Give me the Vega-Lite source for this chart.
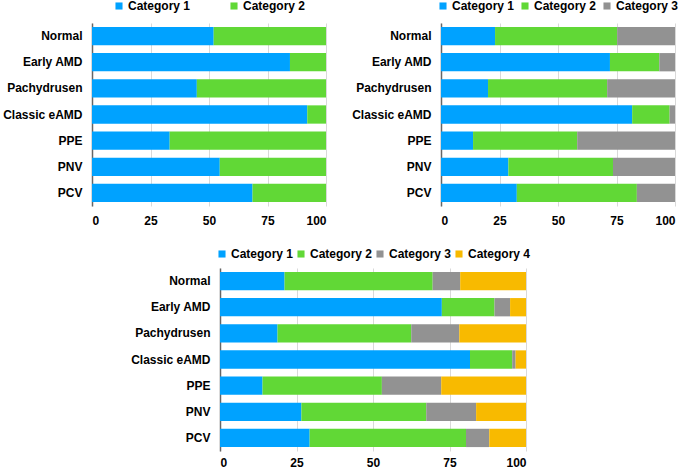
{
  "$schema": "https://vega.github.io/schema/vega-lite/v6.json",
  "padding": {"left": 2, "top": 0, "right": 0, "bottom": 0},
  "datasets": {
    "d2": [
      {"g": "Normal", "c": "Category 1", "v": 52.0}, {"g": "Normal", "c": "Category 2", "v": 48.0},
      {"g": "Early AMD", "c": "Category 1", "v": 84.6}, {"g": "Early AMD", "c": "Category 2", "v": 15.4},
      {"g": "Pachydrusen", "c": "Category 1", "v": 44.8}, {"g": "Pachydrusen", "c": "Category 2", "v": 55.2},
      {"g": "Classic eAMD", "c": "Category 1", "v": 92.0}, {"g": "Classic eAMD", "c": "Category 2", "v": 8.0},
      {"g": "PPE", "c": "Category 1", "v": 33.2}, {"g": "PPE", "c": "Category 2", "v": 66.8},
      {"g": "PNV", "c": "Category 1", "v": 54.6}, {"g": "PNV", "c": "Category 2", "v": 45.4},
      {"g": "PCV", "c": "Category 1", "v": 68.6}, {"g": "PCV", "c": "Category 2", "v": 31.4}
    ],
    "d3": [
      {"g": "Normal", "c": "Category 1", "v": 23.1}, {"g": "Normal", "c": "Category 2", "v": 52.2}, {"g": "Normal", "c": "Category 3", "v": 24.7},
      {"g": "Early AMD", "c": "Category 1", "v": 72.2}, {"g": "Early AMD", "c": "Category 2", "v": 21.1}, {"g": "Early AMD", "c": "Category 3", "v": 6.7},
      {"g": "Pachydrusen", "c": "Category 1", "v": 20.1}, {"g": "Pachydrusen", "c": "Category 2", "v": 50.9}, {"g": "Pachydrusen", "c": "Category 3", "v": 29.0},
      {"g": "Classic eAMD", "c": "Category 1", "v": 81.7}, {"g": "Classic eAMD", "c": "Category 2", "v": 16.0}, {"g": "Classic eAMD", "c": "Category 3", "v": 2.3},
      {"g": "PPE", "c": "Category 1", "v": 13.7}, {"g": "PPE", "c": "Category 2", "v": 44.5}, {"g": "PPE", "c": "Category 3", "v": 41.8},
      {"g": "PNV", "c": "Category 1", "v": 28.8}, {"g": "PNV", "c": "Category 2", "v": 44.7}, {"g": "PNV", "c": "Category 3", "v": 26.5},
      {"g": "PCV", "c": "Category 1", "v": 32.4}, {"g": "PCV", "c": "Category 2", "v": 51.3}, {"g": "PCV", "c": "Category 3", "v": 16.3}
    ],
    "d4": [
      {"g": "Normal", "c": "Category 1", "v": 21.1}, {"g": "Normal", "c": "Category 2", "v": 48.4}, {"g": "Normal", "c": "Category 3", "v": 9.0}, {"g": "Normal", "c": "Category 4", "v": 21.5},
      {"g": "Early AMD", "c": "Category 1", "v": 72.5}, {"g": "Early AMD", "c": "Category 2", "v": 17.2}, {"g": "Early AMD", "c": "Category 3", "v": 5.1}, {"g": "Early AMD", "c": "Category 4", "v": 5.2},
      {"g": "Pachydrusen", "c": "Category 1", "v": 18.8}, {"g": "Pachydrusen", "c": "Category 2", "v": 43.7}, {"g": "Pachydrusen", "c": "Category 3", "v": 15.7}, {"g": "Pachydrusen", "c": "Category 4", "v": 21.8},
      {"g": "Classic eAMD", "c": "Category 1", "v": 81.7}, {"g": "Classic eAMD", "c": "Category 2", "v": 13.8}, {"g": "Classic eAMD", "c": "Category 3", "v": 1.1}, {"g": "Classic eAMD", "c": "Category 4", "v": 3.4},
      {"g": "PPE", "c": "Category 1", "v": 13.9}, {"g": "PPE", "c": "Category 2", "v": 39.0}, {"g": "PPE", "c": "Category 3", "v": 19.4}, {"g": "PPE", "c": "Category 4", "v": 27.7},
      {"g": "PNV", "c": "Category 1", "v": 26.6}, {"g": "PNV", "c": "Category 2", "v": 40.8}, {"g": "PNV", "c": "Category 3", "v": 16.3}, {"g": "PNV", "c": "Category 4", "v": 16.3},
      {"g": "PCV", "c": "Category 1", "v": 29.3}, {"g": "PCV", "c": "Category 2", "v": 51.1}, {"g": "PCV", "c": "Category 3", "v": 7.6}, {"g": "PCV", "c": "Category 4", "v": 12.0}
    ]
  },
  "vconcat": [
    {
      "hconcat": [
        {
          "data": {"name": "d2"},
          "width": 234, "height": 183,
          "mark": {"type": "bar"},
          "encoding": {
            "y": {"field": "g", "type": "nominal", "sort": ["Normal", "Early AMD", "Pachydrusen", "Classic eAMD", "PPE", "PNV", "PCV"], "title": null, "scale": {"paddingInner": 0.3, "paddingOuter": 0.15}},
            "x": {"field": "v", "type": "quantitative", "stack": "zero", "title": null, "scale": {"domain": [0, 100], "nice": false}, "axis": {"values": [0, 25, 50, 75, 100]}},
            "color": {"field": "c", "type": "nominal", "scale": {"domain": ["Category 1", "Category 2"], "range": ["#00A2FF", "#61D836"]}, "legend": {"orient": "top", "title": null, "columnPadding": 37, "offset": 11}},
            "order": {"field": "c"}
          }
        },
        {
          "data": {"name": "d3"},
          "width": 234, "height": 183,
          "mark": {"type": "bar"},
          "encoding": {
            "y": {"field": "g", "type": "nominal", "sort": ["Normal", "Early AMD", "Pachydrusen", "Classic eAMD", "PPE", "PNV", "PCV"], "title": null, "scale": {"paddingInner": 0.3, "paddingOuter": 0.15}},
            "x": {"field": "v", "type": "quantitative", "stack": "zero", "title": null, "scale": {"domain": [0, 100], "nice": false}, "axis": {"values": [0, 25, 50, 75, 100]}},
            "color": {"field": "c", "type": "nominal", "scale": {"domain": ["Category 1", "Category 2", "Category 3"], "range": ["#00A2FF", "#61D836", "#929292"]}, "legend": {"orient": "top", "title": null, "columnPadding": 4, "offset": 11}},
            "order": {"field": "c"}
          }
        }
      ],
      "spacing": 25,
      "resolve": {"scale": {"color": "independent"}, "legend": {"color": "independent"}}
    },
    {
      "hconcat": [
        {
          "data": {"values": []},
          "width": 38, "height": 10,
          "mark": {"type": "point"}
        },
        {
          "data": {"name": "d4"},
          "width": 306, "height": 183,
          "mark": {"type": "bar"},
          "encoding": {
            "y": {"field": "g", "type": "nominal", "sort": ["Normal", "Early AMD", "Pachydrusen", "Classic eAMD", "PPE", "PNV", "PCV"], "title": null, "scale": {"paddingInner": 0.3, "paddingOuter": 0.15}},
            "x": {"field": "v", "type": "quantitative", "stack": "zero", "title": null, "scale": {"domain": [0, 100], "nice": false}, "axis": {"values": [0, 25, 50, 75, 100], "labelPadding": 6}},
            "color": {"field": "c", "type": "nominal", "scale": {"domain": ["Category 1", "Category 2", "Category 3", "Category 4"], "range": ["#00A2FF", "#61D836", "#929292", "#F8BA00"]}, "legend": {"orient": "top", "title": null, "columnPadding": 1, "offset": 8}},
            "order": {"field": "c"}
          }
        }
      ],
      "spacing": 0,
      "resolve": {"scale": {"color": "independent"}, "legend": {"color": "independent"}}
    }
  ],
  "spacing": 22,
  "resolve": {"scale": {"color": "independent"}, "legend": {"color": "independent"}},
  "config": {
    "view": {"stroke": null},
    "font": "Liberation Sans",
    "axis": {"labelFont": "Liberation Sans", "labelFontWeight": "bold", "labelFontSize": 12, "labelColor": "#000000", "ticks": false},
    "axisX": {"domain": false, "grid": true, "gridColor": "#d9d9d9", "gridWidth": 1, "labelPadding": 9},
    "axisY": {"domain": true, "domainColor": "#666666", "domainWidth": 1.5, "grid": false, "labelPadding": 10},
    "legend": {"labelFont": "Liberation Sans", "labelFontWeight": "bold", "labelFontSize": 12, "labelColor": "#000000", "symbolType": "square", "symbolSize": 50, "labelOffset": 3, "symbolStrokeWidth": 0, "layout": {"top": {"anchor": "middle"}}}
  }
}
